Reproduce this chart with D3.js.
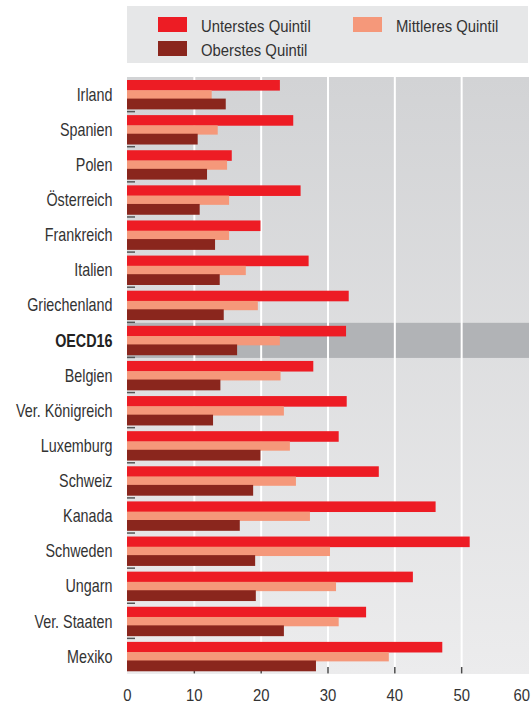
<!DOCTYPE html>
<html>
<head>
<meta charset="utf-8">
<script src="https://cdn.jsdelivr.net/npm/d3@7"></script>
<style>
  html, body { margin: 0; padding: 0; background: #fff; }
  svg { display: block; }
  text { font-family: "Liberation Sans", Arial, sans-serif; }
</style>
</head>
<body>
<svg id="chart" width="532" height="704"></svg>
<script>
// Countries, top to bottom
const categories = ["Irland", "Spanien", "Polen", "Österreich", "Frankreich", "Italien",
  "Griechenland", "OECD16", "Belgien", "Ver. Königreich", "Luxemburg", "Schweiz",
  "Kanada", "Schweden", "Ungarn", "Ver. Staaten", "Mexiko"];

// Share per income quintil (%)
const unterstes = [22.8, 24.8, 15.6, 25.9, 19.9, 27.1, 33.1, 32.7, 27.8, 32.8, 31.6, 37.6, 46.1, 51.2, 42.7, 35.7, 47.1];
const mittleres = [12.6, 13.5, 14.9, 15.2, 15.2, 17.7, 19.5, 22.8, 22.9, 23.4, 24.3, 25.2, 27.3, 30.3, 31.2, 31.6, 39.1];
const oberstes  = [14.7, 10.5, 11.9, 10.8, 13.1, 13.8, 14.4, 16.4, 13.9, 12.8, 19.9, 18.8, 16.8, 19.1, 19.2, 23.4, 28.2];

const seriesNames = ["Unterstes Quintil", "Mittleres Quintil", "Oberstes Quintil"];
const seriesColors = ["#ed1c24", "#f5987a", "#8a261d"];
const xTicks = [0, 10, 20, 30, 40, 50, 60];
const highlighted = "OECD16";

const svg = d3.select("#chart");
const textColor = "#333333";

const plot = { left: 127, right: 529, top: 77, bottom: 674 };

const x = d3.scaleLinear().domain([0, 60]).range([127.5, 528.5]);
const y = d3.scaleBand().domain(categories).range([plot.top, plot.bottom]);
const bw = y.bandwidth();

// condensed text helper
function label(parent, tx, ty, str, opts = {}) {
  const g = parent.append("g").attr("transform", `translate(${tx},${ty}) scale(${opts.squeeze || 0.9},1)`);
  return g.append("text")
    .attr("text-anchor", opts.anchor || "start")
    .attr("font-size", opts.size || 16)
    .attr("font-weight", opts.weight || "normal")
    .attr("fill", opts.color || textColor)
    .text(str);
}

// background gradient
const defs = svg.append("defs");
const grad = defs.append("linearGradient").attr("id", "bg").attr("x1", 0).attr("y1", 0).attr("x2", 0).attr("y2", 1);
grad.append("stop").attr("offset", "0%").attr("stop-color", "#d2d3d5");
grad.append("stop").attr("offset", "100%").attr("stop-color", "#ececed");

// legend
const legend = svg.append("g");
legend.append("rect").attr("x", 127).attr("y", 6).attr("width", 401).attr("height", 57).attr("fill", "#e6e7e8");
const legendPos = [
  { sx: 158, sy: 17, tx: 201, ty: 31.5 },
  { sx: 353, sy: 17, tx: 396, ty: 31.5 },
  { sx: 158, sy: 41, tx: 201, ty: 55.5 }
];
seriesNames.forEach((name, i) => {
  const p = legendPos[i];
  legend.append("rect").attr("x", p.sx).attr("y", p.sy).attr("width", 29).attr("height", 15).attr("fill", seriesColors[i]);
  label(legend, p.tx, p.ty, name, { size: 16.5, squeeze: 0.9 });
});

// plot background
svg.append("rect")
  .attr("x", plot.left).attr("y", plot.top)
  .attr("width", plot.right - plot.left).attr("height", plot.bottom - plot.top)
  .attr("fill", "url(#bg)");

// highlighted row band
svg.append("rect")
  .attr("x", plot.left).attr("y", y(highlighted))
  .attr("width", plot.right - plot.left).attr("height", bw)
  .attr("fill", "#b1b3b6");

// vertical grid lines
svg.append("g").selectAll("line")
  .data(xTicks.filter(t => t > 0 && t < 60))
  .join("line")
  .attr("x1", d => x(d)).attr("x2", d => x(d))
  .attr("y1", plot.top).attr("y2", plot.bottom)
  .attr("stroke", "#ffffff").attr("stroke-width", 2);

// bottom tick marks
svg.append("g").selectAll("line")
  .data(xTicks.filter(t => t > 0 && t < 60))
  .join("line")
  .attr("x1", d => x(d)).attr("x2", d => x(d))
  .attr("y1", plot.bottom - 7).attr("y2", plot.bottom - 0.5)
  .attr("stroke", "#4a4a4a").attr("stroke-width", 1.5);

// bars: offset and height relative to each row band
const barLayout = [
  { off: 3.0, h: 10.6 },
  { off: 13.2, h: 9.3 },
  { off: 21.6, h: 10.8 }
];
[unterstes, mittleres, oberstes].forEach((vals, s) => {
  svg.append("g").selectAll("rect")
    .data(categories.map((c, i) => ({ c, v: vals[i] })))
    .join("rect")
    .attr("x", x(0) - 0.5)
    .attr("y", d => y(d.c) + barLayout[s].off)
    .attr("width", d => x(d.v) - x(0) + 0.5)
    .attr("height", barLayout[s].h)
    .attr("fill", seriesColors[s]);
});

// small separators between rows on the left edge
svg.append("g").selectAll("line")
  .data(categories.slice(1))
  .join("line")
  .attr("x1", plot.left).attr("x2", plot.left + 8)
  .attr("y1", d => y(d) - 0.5).attr("y2", d => y(d) - 0.5)
  .attr("stroke", "#555").attr("stroke-width", 1.5);

// category labels
categories.forEach(c => {
  const bold = c === highlighted;
  label(svg, 112.5, y(c) + bw / 2 + 6.2, c, {
    anchor: "end", size: 18.5, squeeze: 0.775,
    weight: bold ? "bold" : "normal",
    color: bold ? "#222" : textColor
  });
});

// x axis labels
xTicks.forEach((t, i) => {
  const last = i === xTicks.length - 1;
  label(svg, last ? 530 : x(t), 701, String(t), { anchor: last ? "end" : "middle", size: 16, squeeze: 0.93 });
});
</script>
</body>
</html>
